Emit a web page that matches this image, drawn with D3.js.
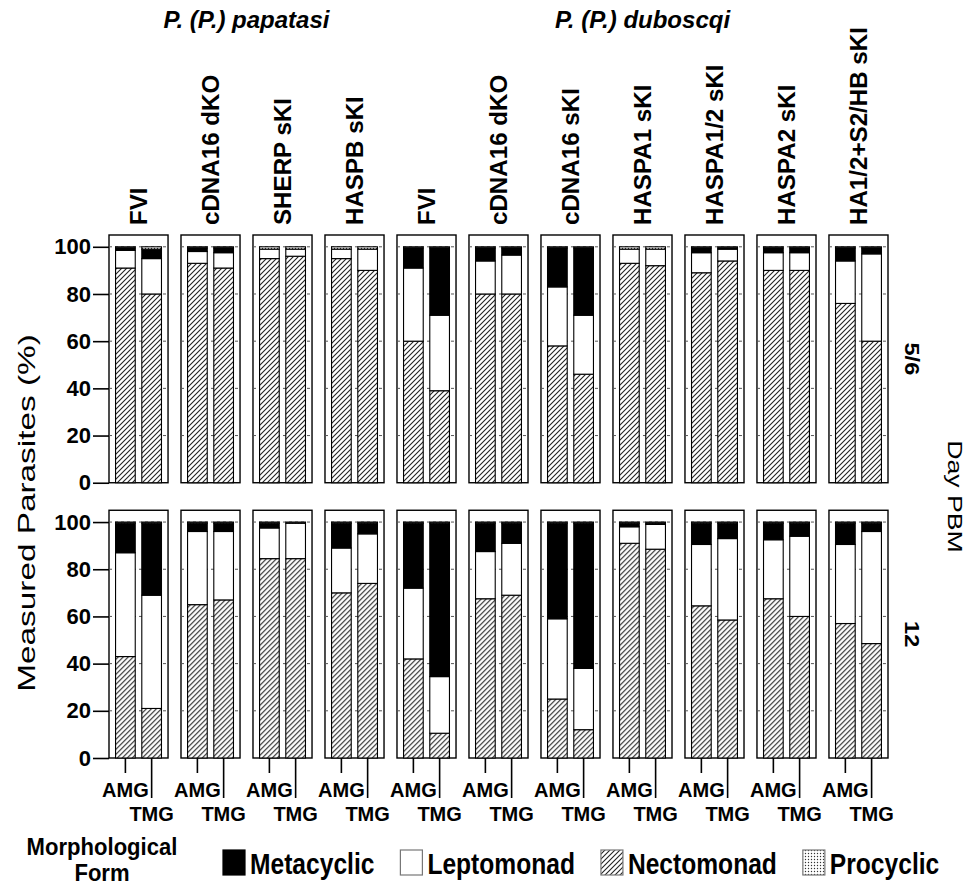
<!doctype html>
<html>
  <head>
    <style>
      body { margin: 0; background: #fff; }
      svg text { font-family: Arial, 'Liberation Sans', sans-serif; fill: #000; }
    </style>
  </head>
  <body>
    <svg id='chart0'></svg>

    <script src='https://d3js.org/d3.v7.min.js'></script>
    <script>
      // Species headers and how many strain panels sit under each one.
      const species = ['P. (P.) papatasi', 'P. (P.) duboscqi'];
      const species_count = [4, 7];
      const strains = ['FVI', 'cDNA16 dKO', 'SHERP sKI', 'HASPB sKI',
                       'FVI', 'cDNA16 dKO', 'cDNA16 sKI', 'HASPA1 sKI',
                       'HASPA1/2 sKI', 'HASPA2 sKI', 'HA1/2+S2/HB sKI'];
      const days = ['5/6', '12'];
      const midguts = ['AMG', 'TMG'];
      // stacking order, bottom to top
      const forms = ['Nectomonad', 'Leptomonad', 'Metacyclic', 'Procyclic'];
      const legend_order = ['Metacyclic', 'Leptomonad', 'Nectomonad', 'Procyclic'];
      const y_ticks = [0, 20, 40, 60, 80, 100];

      // Percentages per strain, AMG then TMG.
      const nectomonad_d5 = [91, 80, 93, 91, 95, 96, 95, 90, 60, 39, 80, 80,
                             58, 46, 93, 92, 89, 94, 90, 90, 76, 60];
      const leptomonad_d5 = [7.5, 15, 5, 6.5, 4, 3, 4, 9, 31, 32, 14, 16.5,
                             25, 25, 6, 7, 8.5, 5, 7.5, 7.5, 18, 37];
      const metacyclic_d5 = [1, 4, 1.5, 2, 0, 0, 0, 0, 8.5, 28.5, 5.5, 3,
                             16.5, 28.5, 0, 0, 2, 0.5, 2, 2, 5.5, 2.5];
      const procyclic_d5 = [0.5, 1, 0.5, 0.5, 1, 1, 1, 1, 0.5, 0.5, 0.5, 0.5,
                            0.5, 0.5, 1, 1, 0.5, 0.5, 0.5, 0.5, 0.5, 0.5];

      const nectomonad_d12 = [43, 21, 65, 67, 84.5, 84.5, 70, 74, 42, 10.5, 67.5, 69,
                              25, 12, 91, 88.5, 64.5, 58.5, 67.5, 60, 57, 48.5];
      const leptomonad_d12 = [44, 48, 31, 29, 13, 15, 19, 21, 30, 24, 20, 22,
                              34, 26, 7, 10.5, 26, 34.5, 25, 34, 33.5, 47.5];
      const metacyclic_d12 = [12.5, 30.5, 3.5, 3.5, 2, 0, 10.5, 4.5, 27.5, 65, 12, 8.5,
                              40.5, 61.5, 1.5, 0.5, 9, 6.5, 7, 5.5, 9, 3.5];
      const procyclic_d12 = [0.5, 0.5, 0.5, 0.5, 0.5, 0.5, 0.5, 0.5, 0.5, 0.5, 0.5, 0.5,
                             0.5, 0.5, 0.5, 0.5, 0.5, 0.5, 0.5, 0.5, 0.5, 0.5];

      const day_values = new Map([
          ['5/6', {Nectomonad: nectomonad_d5, Leptomonad: leptomonad_d5,
                   Metacyclic: metacyclic_d5, Procyclic: procyclic_d5}],
          ['12', {Nectomonad: nectomonad_d12, Leptomonad: leptomonad_d12,
                  Metacyclic: metacyclic_d12, Procyclic: procyclic_d12}],
      ]);

      const width = 979;
      const height = 888;
      const svg = d3.select('svg#chart0')
                    .attr('width', width)
                    .attr('height', height);

      // patterns for the hatched and dotted forms
      const defs = svg.append('defs');
      const hatch = defs.append('pattern')
                        .attr('id', 'hatch')
                        .attr('patternUnits', 'userSpaceOnUse')
                        .attr('width', 5)
                        .attr('height', 5);
      hatch.append('rect').attr('width', 5).attr('height', 5).attr('fill', '#fff');
      hatch.append('path')
           .attr('d', 'M-1,1 l2,-2 M0,5 l5,-5 M4,6 l2,-2')
           .attr('stroke', '#222')
           .attr('stroke-width', 1.1);
      const dots = defs.append('pattern')
                       .attr('id', 'dots')
                       .attr('patternUnits', 'userSpaceOnUse')
                       .attr('width', 3)
                       .attr('height', 3);
      dots.append('rect').attr('width', 3).attr('height', 3).attr('fill', '#fff');
      dots.append('circle').attr('cx', 1.5).attr('cy', 1.5).attr('r', 0.7).attr('fill', '#333');

      const fill = d3.scaleOrdinal()
                     .domain(forms)
                     .range(['url(#hatch)', '#fff', '#000', 'url(#dots)']);

      const x_panel = d3.scaleBand()
                        .domain(d3.range(strains.length))
                        .range([109, 888])
                        .paddingInner(0.18);
      const x_bar = d3.scaleBand()
                      .domain(midguts)
                      .range([0, x_panel.bandwidth()])
                      .padding(0.25);
      const y_row = d3.scaleBand()
                      .domain(days)
                      .range([235, 758])
                      .paddingInner(0.1);
      const y = d3.scaleLinear()
                  .domain([0, 105])
                  .range([y_row.bandwidth(), 0]);

      const stack = d3.stack().keys(forms);

      for (const day of days) {
          const vals = day_values.get(day);
          const rows = [];
          strains.forEach((s, i) => {
              midguts.forEach((m, j) => {
                  const r = {strain: i, midgut: m};
                  for (const f of forms) r[f] = vals[f][2 * i + j];
                  rows.push(r);
              });
          });
          const series = stack(rows);

          const row = svg.append('g')
                         .attr('transform', `translate(0,${y_row(day)})`);

          const panel = row.selectAll('g.panel')
                           .data(d3.range(strains.length))
                           .join('g')
                           .attr('class', 'panel')
                           .attr('transform', i => `translate(${x_panel(i)},0)`);
          panel.append('rect')
               .attr('width', x_panel.bandwidth())
               .attr('height', y_row.bandwidth())
               .attr('fill', '#fff')
               .attr('stroke', '#000')
               .attr('stroke-width', 1.4);
          panel.selectAll('line.grid')
               .data(y_ticks.slice(1))
               .join('line')
               .attr('class', 'grid')
               .attr('x1', 0)
               .attr('x2', x_panel.bandwidth())
               .attr('y1', d => y(d))
               .attr('y2', d => y(d))
               .attr('stroke', '#555')
               .attr('stroke-dasharray', '3,3');

          row.selectAll('g.layer')
             .data(series)
             .join('g')
             .attr('class', 'layer')
             .attr('fill', d => fill(d.key))
             .selectAll('rect')
             .data(d => d)
             .join('rect')
             .attr('x', d => x_panel(d.data.strain) + x_bar(d.data.midgut))
             .attr('width', x_bar.bandwidth())
             .attr('y', d => y(d[1]))
             .attr('height', d => y(d[0]) - y(d[1]))
             .attr('stroke', '#000')
             .attr('stroke-width', 1.1);

          // y axis
          const ax = row.append('g')
                        .attr('transform', `translate(${x_panel(0)},0)`)
                        .call(d3.axisLeft(y).tickValues(y_ticks).tickSize(16).tickSizeOuter(0).tickPadding(2));
          ax.select('.domain').remove();
          ax.selectAll('.tick line').attr('stroke-width', 1.6);
          ax.selectAll('.tick text')
            .attr('font-size', 22)
            .attr('font-weight', 'bold')
            .attr('font-family', 'Arial, Liberation Sans, sans-serif');

          // day label at right
          row.append('text')
             .attr('transform', `translate(912,${y_row.bandwidth() / 2}) rotate(90) scale(1.12,1)`)
             .attr('text-anchor', 'middle')
             .attr('dy', '0.35em')
             .attr('font-size', 21)
             .attr('font-weight', 'bold')
             .text(day);

          // midgut ticks on the bottom row only
          if (day === days[days.length - 1]) {
              const bottom = y_row.bandwidth();
              const tick_len = {AMG: 15, TMG: 40};
              const label_y = {AMG: 39, TMG: 63};
              for (const m of midguts) {
                  row.selectAll(null)
                     .data(d3.range(strains.length))
                     .join('line')
                     .attr('x1', i => x_panel(i) + x_bar(m) + x_bar.bandwidth() / 2)
                     .attr('x2', i => x_panel(i) + x_bar(m) + x_bar.bandwidth() / 2)
                     .attr('y1', bottom)
                     .attr('y2', bottom + tick_len[m])
                     .attr('stroke', '#000')
                     .attr('stroke-width', 1.6);
                  row.selectAll(null)
                     .data(d3.range(strains.length))
                     .join('text')
                     .attr('x', i => x_panel(i) + x_bar(m) + x_bar.bandwidth() / 2)
                     .attr('y', bottom + label_y[m])
                     .attr('text-anchor', 'middle')
                     .attr('font-size', 20)
                     .attr('font-weight', 'bold')
                     .text(m);
              }
          }
      }

      // strain labels above panels
      svg.selectAll('text.strain')
         .data(strains)
         .join('text')
         .attr('class', 'strain')
         .attr('transform', (d, i) => `translate(${x_panel(i) + x_panel.bandwidth() / 2},225) rotate(-90) scale(1.05,1)`)
         .attr('dy', '0.36em')
         .attr('font-size', 23)
         .attr('font-weight', 'bold')
         .text(d => d);

      // species headers
      let first = 0;
      species.forEach((s, k) => {
          const last = first + species_count[k] - 1;
          const cx = (x_panel(first) + x_panel(last) + x_panel.bandwidth()) / 2;
          svg.append('text')
             .attr('x', cx)
             .attr('y', 28)
             .attr('text-anchor', 'middle')
             .attr('font-size', 24)
             .attr('font-weight', 'bold')
             .attr('font-style', 'italic')
             .text(s);
          first = last + 1;
      });

      // axis titles
      svg.append('text')
         .attr('transform', `translate(27,513) rotate(-90) scale(1.45,1)`)
         .attr('text-anchor', 'middle')
         .attr('dy', '0.35em')
         .attr('font-size', 23)
         .text('Measured Parasites (%)');
      svg.append('text')
         .attr('transform', `translate(955,${(235 + 758) / 2}) rotate(90) scale(1.27,1)`)
         .attr('text-anchor', 'middle')
         .attr('dy', '0.35em')
         .attr('font-size', 21)
         .text('Day PBM');

      // legend
      const legend = svg.append('g');
      legend.append('text')
            .attr('transform', 'translate(102,855) scale(0.92,1)')
            .attr('text-anchor', 'middle')
            .attr('font-size', 24)
            .attr('font-weight', 'bold')
            .text('Morphological');
      legend.append('text')
            .attr('transform', 'translate(102,881) scale(0.92,1)')
            .attr('text-anchor', 'middle')
            .attr('font-size', 24)
            .attr('font-weight', 'bold')
            .text('Form');

      let lx = 223;
      for (const f of legend_order) {
          legend.append('rect')
                .attr('x', lx)
                .attr('y', 850)
                .attr('width', 22)
                .attr('height', 25)
                .attr('fill', fill(f))
                .attr('stroke', f === 'Metacyclic' ? '#000' : '#777')
                .attr('stroke-width', 1.2);
          const t = legend.append('text')
                          .attr('transform', `translate(${lx + 27},874) scale(0.82,1)`)
                          .attr('font-size', 30)
                          .attr('font-weight', 'bold')
                          .text(f);
          lx += 27 + t.node().getComputedTextLength() * 0.82 + 26;
      }
    </script>
  </body>
</html>
